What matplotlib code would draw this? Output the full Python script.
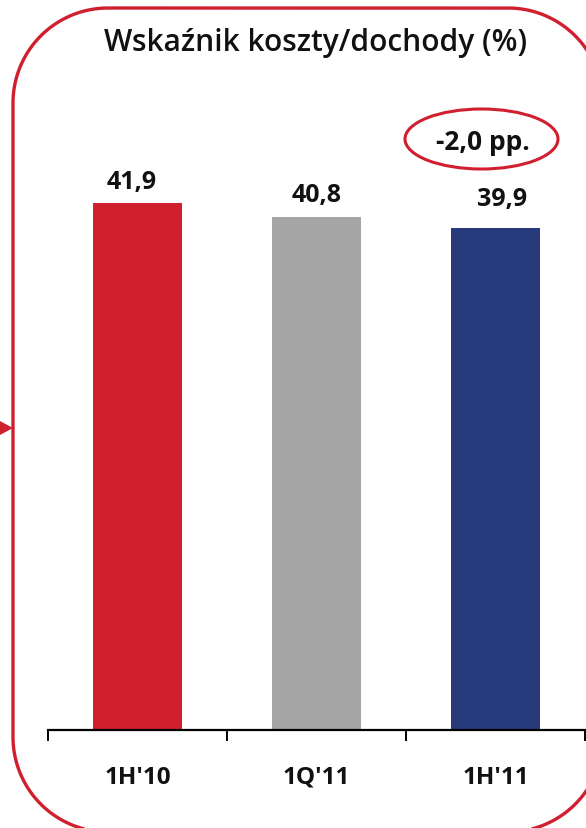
import matplotlib
matplotlib.use("Agg")
import numpy as np
import matplotlib.pyplot as plt
from matplotlib.patches import Ellipse, Polygon, PathPatch
from matplotlib.path import Path
from matplotlib.transforms import IdentityTransform

categories = ["1H'10", "1Q'11", "1H'11"]
values = [41.9, 40.8, 39.9]
value_labels = ["41,9", "40,8", "39,9"]
bar_colors = ["#D01F2E", "#A6A6A6", "#273A7B"]
title = "Wskaźnik koszty/dochody (%)"
change_label = "-2,0 pp."

RED = "#D01F2E"
W, H = 586, 829
fig = plt.figure(figsize=(W / 100, H / 100), dpi=100)

def fx(x):
    return x / W

def fy(y):
    return 1 - y / H

# rounded frame in pixel coordinates (y down converted)
L, T, R, B, r = 13, 9, 603, 833, 95
pts = []
def arc(cx, cy, a0, a1):
    for a in np.linspace(np.radians(a0), np.radians(a1), 40):
        pts.append((cx + r * np.cos(a), H - (cy - r * np.sin(a))))
arc(L + r, T + r, 180, 90)      # top-left
arc(R - r, T + r, 90, 0)        # top-right
arc(R - r, B - r, 0, -90)       # bottom-right
arc(L + r, B - r, -90, -180)    # bottom-left
pts.append(pts[0])
frame = PathPatch(Path(pts), transform=IdentityTransform(), fill=False,
                  ec=RED, lw=2.4)
fig.patches.append(frame)

# left arrow marker
tri = Polygon([(0, H - 422), (0, H - 436), (13, H - 429)], closed=True,
              transform=IdentityTransform(), fc=RED, ec="none")
fig.patches.append(tri)

ax = fig.add_axes([fx(48), fy(731), fx(585) - fx(48), fy(102) - fy(731)])
x = list(range(len(categories)))
ax.bar(x, values, width=0.5, color=bar_colors)
ax.set_xlim(-0.5, 2.5)
ax.set_ylim(0, 50)
for s in ["top", "right", "left"]:
    ax.spines[s].set_visible(False)
ax.spines["bottom"].set_linewidth(1.6)
ax.set_yticks([])
ax.set_xticks([-0.5, 0.5, 1.5, 2.5])
ax.set_xticklabels([])
ax.tick_params(axis="x", length=8, width=1.4, direction="out")
ax.patch.set_alpha(0)

font = "Open Sans"
for xi, lab in zip(x, categories):
    ax.text(xi, -3.7, lab, ha="center", va="center", fontsize=17.5,
            fontweight="bold", family=font, color="#111111")

offsets = [(-6, 9), (0, 10), (7, 17)]
for xi, v, lab, off in zip(x, values, value_labels, offsets):
    ax.annotate(lab, (xi, v), xytext=off, textcoords="offset pixels",
                ha="center", va="bottom", fontsize=18, fontweight="bold",
                family=font, color="#111111")

fig.text(fx(316), fy(43), title, ha="center", va="center", fontsize=21.5,
         family=font, fontweight="semibold", color="#111111")

ell = Ellipse((481.5, H - 140), 153, 60, transform=IdentityTransform(),
              fill=False, ec=RED, lw=2.2)
fig.patches.append(ell)
fig.text(fx(483), fy(142), change_label, ha="center", va="center",
         fontsize=19, fontweight="bold", family=font, color="#111111")

fig.savefig("out.png", dpi=100)
